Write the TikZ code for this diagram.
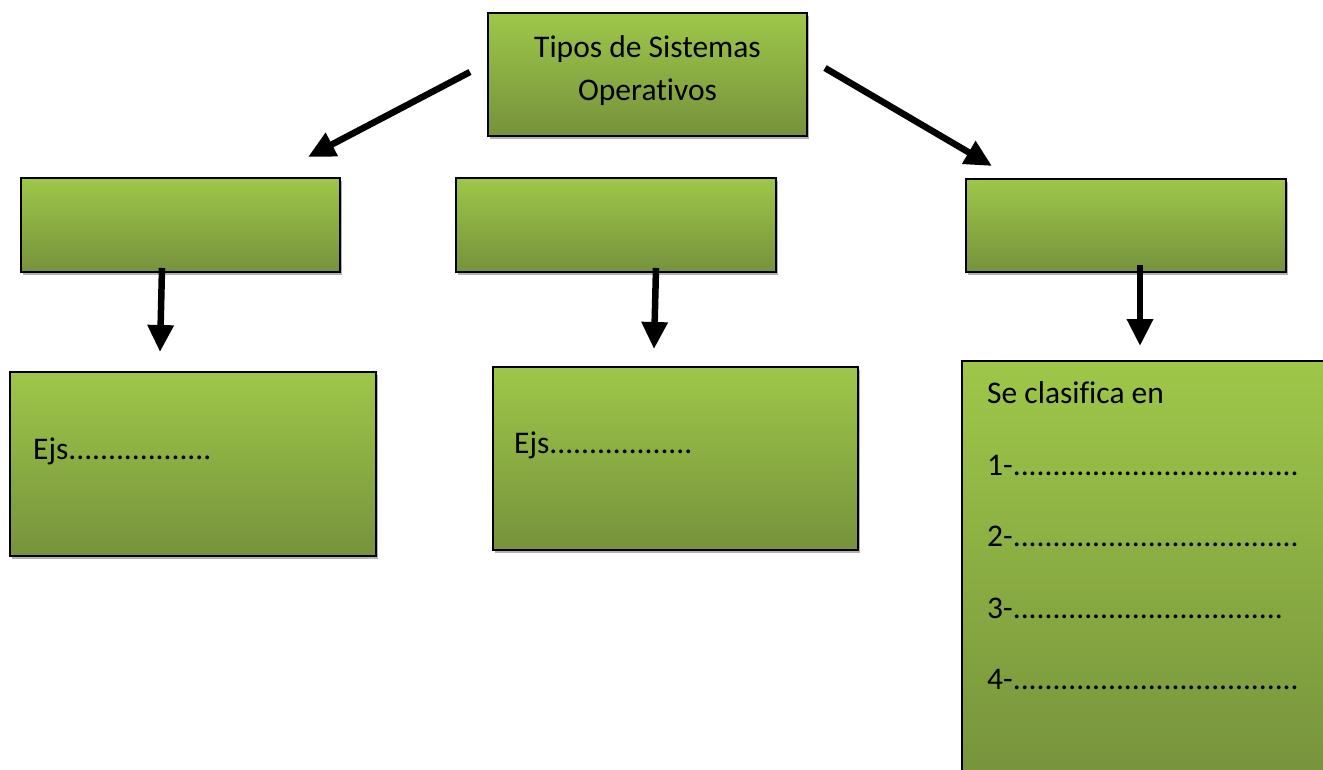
\documentclass[tikz,border=0pt]{standalone}
\usepackage{fontspec}
\setmainfont[Ligatures={NoCommon}]{Carlito}
\usetikzlibrary{arrows.meta,shadows}
\definecolor{gtop}{RGB}{158,199,73}
\definecolor{gbot}{RGB}{118,146,60}
\begin{document}
\begin{tikzpicture}[x=1pt,y=-1pt,
  box/.style={draw=black,line width=1.6pt,top color=gtop,bottom color=gbot,
    inner sep=0pt,outer sep=0pt,
    drop shadow={shadow xshift=2pt,shadow yshift=-2.5pt,opacity=0.3,fill=black}},
  arr/.style={line width=6.5pt,-{Triangle[length=27pt,width=25pt]}},
  lbl/.style={font=\fontsize{31.5}{43}\selectfont,inner sep=0pt}]
\useasboundingbox (0,0) rectangle (1323,769);
\fill[white] (0,0) rectangle (1323,769);
% boxes
\node[box,minimum width=319pt,minimum height=123pt] (top) at (647.5,74.5) {};
\node[box,minimum width=319pt,minimum height=94pt] (lm) at (180.5,225) {};
\node[box,minimum width=320pt,minimum height=94pt] (cm) at (616,225) {};
\node[box,minimum width=320pt,minimum height=93pt] (rm) at (1126,225.5) {};
\node[box,minimum width=366pt,minimum height=184pt] (lb) at (193,464) {};
\node[box,minimum width=365pt,minimum height=183pt] (cb) at (675.5,458.5) {};
\node[box,minimum width=373pt,minimum height=424pt] (rb) at (1148.5,573) {};
% texts
\node[lbl,anchor=base] (t1) at (647.5,57) {Tipos de Sistemas};
\node[lbl,anchor=base] (t2) at (647.5,100) {Operativos};
\node[lbl,anchor=base west] (e1) at (33,459) {Ejs..................};
\node[lbl,anchor=base west] (e2) at (514,453) {Ejs..................};
\node[lbl,anchor=base west] (s0) at (987,403) {Se clasifica en};
\node[lbl,anchor=base west] (s1) at (987,475) {1-....................................};
\node[lbl,anchor=base west] (s2) at (987,546) {2-....................................};
\node[lbl,anchor=base west] (s3) at (987,618) {3-..................................};
\node[lbl,anchor=base west] (s4) at (987,689) {4-....................................};
% arrow coordinates
\coordinate (a1s) at (470,72);   \coordinate (a1e) at (308,157);
\coordinate (a2s) at (825,68);   \coordinate (a2e) at (992,166);
\coordinate (a3s) at (162,268);  \coordinate (a3e) at (160,352);
\coordinate (a4s) at (656,268);  \coordinate (a4e) at (654,349);
\coordinate (a5s) at (1140,265); \coordinate (a5e) at (1140,346);
\draw[arr] (a1s) -- (a1e);
\draw[arr] (a2s) -- (a2e);
\draw[arr] (a3s) -- (a3e);
\draw[arr] (a4s) -- (a4e);
\draw[arr] (a5s) -- (a5e);
\end{tikzpicture}
\end{document}
